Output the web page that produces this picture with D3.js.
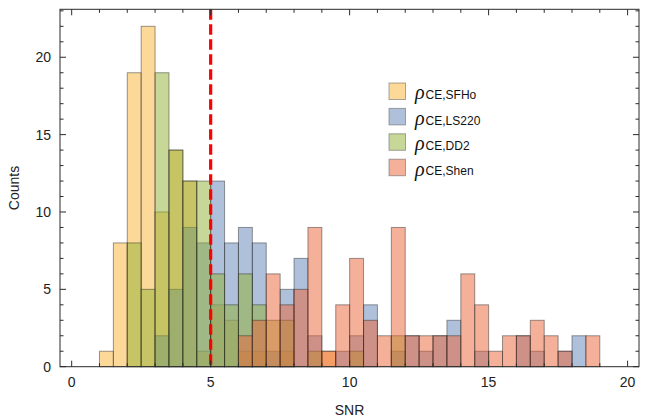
<!DOCTYPE html>
<html>
<head>
<meta charset="utf-8">
<script src="https://cdn.jsdelivr.net/npm/d3@7"></script>
<style>
  body { margin: 0; background: #fff; }
  svg { display: block; }
</style>
</head>
<body>
<script>
// histogram bins: left edge of each bin, width 0.5
var binStarts = [1, 1.5, 2, 2.5, 3, 3.5, 4, 4.5, 5, 5.5, 6, 6.5, 7, 7.5, 8, 8.5, 9, 9.5,
                 10, 10.5, 11, 11.5, 12, 12.5, 13, 13.5, 14, 14.5, 15, 15.5, 16, 16.5, 17, 17.5, 18, 18.5];
var binWidth = 0.5;

// counts per bin for each EOS
var sfho  = [1, 8, 19, 22, 10, 14, 12, 1, 4, 3, 1, 1, 0, 1, 0, 0, 1, 0,
             0, 0, 0, 0, 0, 0, 0, 0, 0, 0, 0, 0, 0, 0, 0, 0, 0, 0];
var ls220 = [0, 0, 0, 0, 2, 5, 9, 8, 12, 8, 9, 8, 1, 5, 7, 2, 0, 1,
             2, 4, 0, 1, 2, 1, 2, 3, 0, 1, 0, 0, 2, 1, 0, 1, 2, 0];
var dd2   = [0, 0, 8, 5, 19, 14, 12, 12, 6, 4, 6, 4, 3, 3, 0, 1, 0, 0,
             1, 0, 0, 2, 0, 0, 0, 0, 0, 0, 0, 0, 0, 0, 0, 0, 0, 0];
var shen  = [0, 0, 0, 0, 0, 0, 0, 0, 0, 0, 2, 3, 6, 4, 5, 9, 1, 4,
             7, 3, 2, 9, 2, 2, 2, 2, 6, 4, 1, 2, 2, 3, 2, 1, 0, 2];

var seriesNames = ["SFHo", "LS220", "DD2", "Shen"];
var seriesColors = ["#fab432", "#5e81b5", "#8fb032", "#eb6235"];
var seriesData = [sfho, ls220, dd2, shen];

var xTicks = [0, 5, 10, 15, 20];
var yTicks = [0, 5, 10, 15, 20];
var threshold = 5;   // the red dashed line

var W = 647, H = 420;
var m = {left: 60, right: 639, top: 9.3, bottom: 366.7};

var x = d3.scaleLinear().domain([-0.42, 20.41]).range([m.left, m.right]);
var y = d3.scaleLinear().domain([0, 23.1]).range([m.bottom, m.top]);

var svg = d3.select("body").append("svg")
  .attr("width", W)
  .attr("height", H);

// bars, one layer per series, drawn in order
seriesData.forEach(function(vals, k) {
  var rows = binStarts.map(function(b, i) { return {b: b, n: vals[i]}; })
                      .filter(function(d) { return d.n > 0; });
  svg.append("g")
    .attr("class", "bars_" + seriesNames[k])
    .selectAll("rect")
    .data(rows)
    .enter().append("rect")
      .attr("x", function(d) { return x(d.b); })
      .attr("y", function(d) { return y(d.n); })
      .attr("width", function(d) { return x(d.b + binWidth) - x(d.b); })
      .attr("height", function(d) { return y(0) - y(d.n); })
      .style("fill", seriesColors[k])
      .style("fill-opacity", 0.5)
      .style("stroke", "#222")
      .style("stroke-opacity", 0.45)
      .style("stroke-width", 1);
});

// threshold line
svg.append("line")
  .attr("x1", x(threshold)).attr("x2", x(threshold))
  .attr("y1", m.top).attr("y2", m.bottom)
  .style("stroke", "#ff0000")
  .style("stroke-width", 3.2)
  .style("stroke-dasharray", "10.5,4.5");

// frame
var frameCol = "#2a2a2a";
svg.append("rect")
  .attr("x", m.left).attr("y", m.top)
  .attr("width", m.right - m.left).attr("height", m.bottom - m.top)
  .style("fill", "none")
  .style("stroke", frameCol)
  .style("stroke-width", 1);

// ticks on all four sides, pointing in
var xMinor = d3.range(0, 21).filter(function(v) { return xTicks.indexOf(v) < 0; });
var yMinor = d3.range(0, 24).filter(function(v) { return yTicks.indexOf(v) < 0; });
var major = 6, minor = 3.5;
var tk = svg.append("g").style("stroke", frameCol).style("stroke-width", 1);

xTicks.concat(xMinor).forEach(function(v) {
  var len = xTicks.indexOf(v) >= 0 ? major : minor;
  tk.append("line").attr("x1", x(v)).attr("x2", x(v)).attr("y1", m.bottom).attr("y2", m.bottom - len);
  tk.append("line").attr("x1", x(v)).attr("x2", x(v)).attr("y1", m.top).attr("y2", m.top + len);
});
yTicks.concat(yMinor).forEach(function(v) {
  var len = yTicks.indexOf(v) >= 0 ? major : minor;
  tk.append("line").attr("y1", y(v)).attr("y2", y(v)).attr("x1", m.left).attr("x2", m.left + len);
  tk.append("line").attr("y1", y(v)).attr("y2", y(v)).attr("x1", m.right).attr("x2", m.right - len);
});

// tick labels
var font = "'Liberation Sans', Arial, sans-serif";
svg.selectAll(".xlab").data(xTicks).enter().append("text")
  .attr("class", "xlab")
  .attr("x", function(d) { return x(d); })
  .attr("y", 386.5)
  .attr("text-anchor", "middle")
  .style("font-family", font).style("font-size", "14px").style("fill", "#222")
  .text(function(d) { return d; });

svg.selectAll(".ylab").data(yTicks).enter().append("text")
  .attr("class", "ylab")
  .attr("x", 51)
  .attr("y", function(d) { return y(d) + 5; })
  .attr("text-anchor", "end")
  .style("font-family", font).style("font-size", "14px").style("fill", "#222")
  .text(function(d) { return d; });

// axis titles
svg.append("text")
  .attr("x", (m.left + m.right) / 2).attr("y", 415)
  .attr("text-anchor", "middle")
  .style("font-family", font).style("font-size", "14px").style("fill", "#222")
  .text("SNR");

svg.append("text")
  .attr("transform", "translate(19," + ((m.top + m.bottom) / 2) + ") rotate(-90)")
  .attr("text-anchor", "middle")
  .style("font-family", font).style("font-size", "14px").style("fill", "#222")
  .text("Counts");

// legend
var lg = svg.append("g").attr("transform", "translate(389,83)");
seriesNames.forEach(function(name, k) {
  var row = lg.append("g").attr("transform", "translate(0," + (k * 25.4) + ")");
  row.append("rect")
    .attr("x", 0).attr("y", 0).attr("width", 16.5).attr("height", 16.5)
    .style("fill", seriesColors[k]).style("fill-opacity", 0.5)
    .style("stroke", "#555").style("stroke-opacity", 0.5);
  var t = row.append("text").attr("x", 26).attr("y", 16.3).style("fill", "#111");
  t.append("tspan")
    .style("font-family", "'Liberation Serif', 'Times New Roman', serif")
    .style("font-style", "italic")
    .style("font-size", "20px")
    .text("ρ");
  t.append("tspan")
    .attr("dx", 1)
    .style("font-family", font)
    .style("font-size", "12px")
    .text("CE," + name);
});
</script>
</body>
</html>
